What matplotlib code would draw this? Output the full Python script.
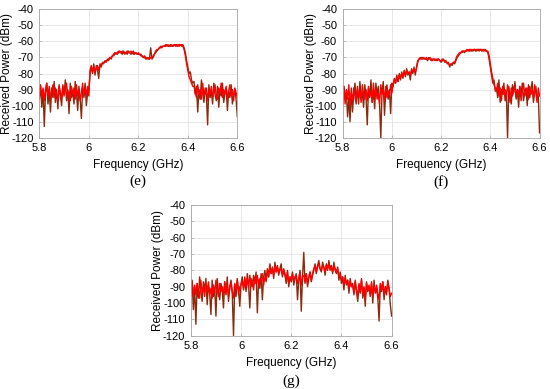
import numpy as np
import matplotlib
matplotlib.use('Agg')
import matplotlib.pyplot as plt

plt.rcParams['font.family'] = ['Liberation Sans', 'DejaVu Sans']
plt.rcParams['font.size'] = 8

# received power traces (dBm), sampled evenly from 5.8 to 6.6 GHz
e_brown = [-96, -88, -101, -90, -113, -92, -86, -99, -91, -104, -89, -95, -85, -98, -90, -102, -87, -94, -100, -88,
           -93, -84, -97, -90, -105, -86, -95, -91, -99, -85, -92, -103, -88, -96, -108, -89, -94, -86, -100, -92, -90,
           -80, -76, -79, -74, -81, -75, -78, -83,
           -74, -76, -73, -74, -72, -73, -71, -72, -70, -71, -69, -69,
           -68, -67, -68, -67, -66, -67, -68, -66, -67, -67, -68, -66, -67, -68, -67, -66, -68, -67, -68, -68,
           -68, -69, -69, -70, -70, -71, -70, -71, -71, -64,
           -71, -70, -68, -67, -66, -65, -64, -64, -63, -63,
           -63, -63, -62, -63, -63, -62, -63, -63, -62, -63, -62, -63, -62, -62, -63, -62,
           -64, -67, -72, -76, -80, -79, -84, -86,
           -85, -93, -88, -104, -90, -96, -84, -92, -98, -89, -94, -112, -87, -95, -91, -99, -86, -93, -97, -88,
           -101, -90, -94, -86, -98, -92, -89, -103, -91, -95, -87, -99, -93, -90, -96, -107]
e_red = [-92, -87, -95, -89, -97, -90, -86, -94, -88, -96, -91, -87, -95, -89, -93, -97, -88, -92, -96, -87,
         -94, -90, -86, -95, -91, -97, -88, -93, -89, -96, -87, -94, -90, -97, -92, -86, -95, -89, -93, -88, -94,
         -78, -75, -80, -76, -79, -77, -75, -78,
         -75, -74, -74, -73, -73, -72, -72, -71, -70, -70, -69, -68,
         -67, -68, -67, -66, -67, -67, -66, -67, -68, -67, -66, -67, -67, -66, -67, -68, -67, -67, -68, -67,
         -68, -68, -69, -70, -69, -70, -71, -70, -71, -70,
         -70, -69, -68, -66, -65, -65, -64, -63, -64, -63,
         -63, -62, -63, -62, -63, -63, -62, -63, -62, -62, -63, -62, -63, -62, -62, -63,
         -65, -69, -74, -78, -82, -84, -86, -88,
         -88, -92, -95, -87, -93, -90, -96, -86, -94, -91, -89, -97, -90, -93, -88, -95, -91, -87, -94, -96,
         -89, -92, -86, -95, -90, -93, -88, -96, -91, -87, -94, -90, -97, -89, -92, -95]

f_brown = [-100, -88, -96, -91, -107, -95, -110, -89, -104, -93, -86, -97, -90, -99, -85, -94, -92, -101, -87, -95, -112,
           -89, -95, -84, -98, -90, -102, -86, -93, -88, -99, -120, -91, -85, -106, -92, -87, -96, -90, -105, -86,
           -88, -83, -86, -81, -85, -80, -84, -79, -83, -78, -82, -77, -81, -79, -84, -77, -80, -76, -81, -76,
           -72, -71, -70, -71,
           -71, -70, -71, -71, -72, -70, -71, -72, -71, -71, -72, -71, -72, -71, -72, -73, -72, -71, -73, -72,
           -74, -73, -76, -74, -75, -73, -74, -72, -70, -69,
           -68, -67, -67, -66, -67, -66, -66, -65, -66, -66, -65, -66, -65, -66, -65, -65, -66, -65, -66, -65,
           -65, -66, -66, -67,
           -71, -76, -81, -86, -84, -91,
           -89, -95, -84, -98, -90, -93, -86, -97, -91, -120, -88, -94, -99, -87, -92, -85, -96, -90, -101, -88,
           -93, -86, -97, -91, -89, -100, -87, -95, -90, -85, -98, -92, -88, -96, -94, -117]
f_red = [-95, -88, -99, -90, -96, -87, -100, -92, -97, -89, -94, -99, -88, -95, -91, -98, -87, -93, -96, -90,
         -97, -88, -94, -91, -98, -86, -95, -89, -96, -92, -99, -87, -93, -90, -97, -88, -95, -91, -94, -87, -92,
         -87, -84, -86, -82, -85, -81, -83, -80, -82, -79, -81, -78, -80, -79, -81, -78, -79, -77, -79, -77,
         -73, -71, -71, -70,
         -70, -71, -71, -70, -71, -71, -70, -71, -72, -71, -71, -72, -71, -71, -72, -72, -71, -72, -72, -73,
         -73, -74, -75, -74, -74, -73, -73, -71, -69, -68,
         -67, -67, -66, -66, -66, -66, -65, -66, -65, -65, -66, -65, -65, -65, -66, -65, -65, -65, -65, -66,
         -66, -65, -66, -66,
         -69, -74, -79, -83, -87, -89,
         -91, -86, -94, -89, -97, -88, -93, -90, -96, -87, -92, -98, -89, -94, -91, -87, -95, -90, -93, -88,
         -97, -91, -86, -94, -92, -89, -96, -88, -93, -90, -95, -87, -92, -98, -89, -94]

g_brown = [-95, -86, -104, -90, -113, -88, -97, -84, -93, -99, -87, -92, -85, -101, -89, -94, -107, -86, -96, -91,
           -108, -85, -93, -98, -88, -92, -103, -87, -95, -84, -99, -90, -86, -94, -120, -89, -96, -85, -92, -102, -88,
           -84, -91, -86, -93, -82, -89, -103, -85, -90, -83, -88, -81, -106, -86, -91, -82, -98, -84, -80, -87,
           -79, -84, -76, -82, -78, -85, -75, -81, -77, -83, -79, -76, -84, -80,
           -83, -88, -80, -90, -84, -87, -81, -89, -85, -82, -98, -86, -80, -105, -84, -69, -88, -82, -90, -85,
           -81, -87, -83,
           -80, -76, -82, -77, -74, -79, -81, -75, -78, -83, -76, -80, -74, -79, -77, -82, -75, -80,
           -82, -78, -86, -81, -88, -84, -92, -83, -89, -86, -94, -85, -90,
           -88, -95, -86, -93, -99, -89, -94, -85, -97, -91, -102, -87, -93, -90, -96, -88, -100, -86, -94, -91,
           -97, -111, -89, -93, -87, -98, -90, -95, -86, -92, -101, -108]
g_red = [-93, -87, -96, -89, -95, -88, -92, -97, -86, -94, -90, -96, -88, -93, -87, -95, -91, -97, -89, -94,
         -86, -92, -96, -88, -93, -90, -95, -87, -94, -89, -96, -91, -87, -93, -97, -88, -92, -86, -95, -90, -89,
         -86, -92, -84, -90, -85, -91, -83, -89, -86, -92, -84, -88, -83, -90, -85, -87, -82, -89, -84, -86,
         -80, -84, -77, -82, -79, -83, -77, -81, -78, -82, -79, -80, -83, -79,
         -82, -86, -81, -88, -84, -85, -82, -87, -84, -83, -88, -85, -81, -89, -84, -83, -87, -82, -88, -84,
         -81, -86, -82,
         -79, -77, -81, -78, -76, -79, -80, -77, -78, -81, -77, -79, -76, -80, -78, -81, -77, -79,
         -81, -79, -84, -82, -86, -84, -89, -85, -88, -86, -91, -87, -90,
         -89, -94, -87, -92, -96, -88, -93, -86, -95, -90, -97, -88, -92, -89, -95, -87, -96, -90, -93, -89,
         -94, -98, -88, -92, -87, -95, -90, -93, -87, -91, -96, -94]

panels = [
    ('(e)', e_brown, e_red, [0.0715, 0.646, 0.360, 0.330], 0.533),
    ('(f)', f_brown, f_red, [0.623, 0.646, 0.358, 0.330], 0.533),
    ('(g)', g_brown, g_red, [0.347, 0.137, 0.365, 0.336], 0.021),
]

fig = plt.figure(figsize=(5.5, 3.89), dpi=100)

for name, brown, red, pos, ly in panels:
    ax = fig.add_axes(pos)
    fb = np.linspace(5.8, 6.6, len(brown))
    fr = np.linspace(5.8, 6.6, len(red))
    ax.plot(fb, brown, color='#8b2a0c', lw=1.0)
    ax.plot(fr, red, color='#ff0000', lw=1.0)
    ax.set_xlim(5.8, 6.6)
    ax.set_ylim(-120, -40)
    ax.set_xticks([5.8, 6.0, 6.2, 6.4, 6.6])
    ax.set_xticklabels(['5.8', '6', '6.2', '6.4', '6.6'])
    ax.set_yticks(np.arange(-120, -39, 10))
    ax.set_yticklabels([str(v) for v in range(-120, -39, 10)])
    ax.grid(True, color='#e3e3e3', lw=0.6)
    ax.set_axisbelow(True)
    for s in ax.spines.values():
        s.set_color('#a6a6a6')
        s.set_linewidth(0.6)
    ax.tick_params(direction='in', length=2.5, width=0.5, color='#a6a6a6', labelsize=8, pad=4)
    ax.set_xlabel('Frequency (GHz)', fontsize=8.5, labelpad=4)
    ax.set_ylabel('Received Power (dBm)', fontsize=8.5, va='center')
    ax.yaxis.set_label_coords(-0.163, 0.5)
    fig.text(pos[0] + pos[2] / 2, ly, name, ha='center', va='center',
             fontsize=11, family=['Liberation Serif', 'DejaVu Serif'])

fig.savefig('out.png', dpi=100)
